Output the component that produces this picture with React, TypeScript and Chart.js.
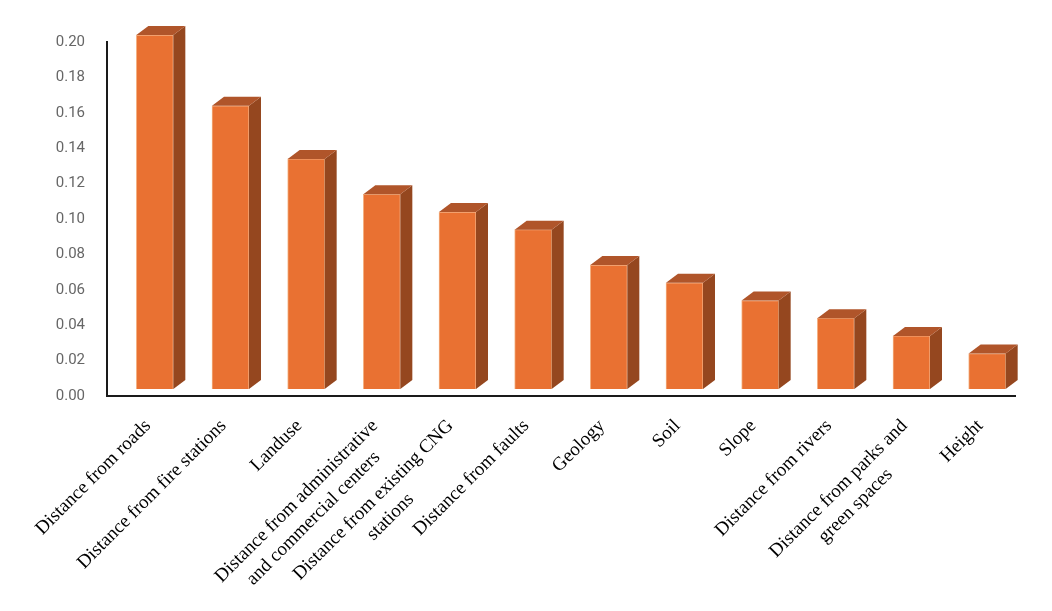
import React, { useEffect, useRef } from 'react';
import { Chart, registerables } from 'chart.js';

Chart.register(...registerables);

const labelLines: string[][] = [
  ['Distance from roads'],
  ['Distance from fire stations'],
  ['Landuse'],
  ['Distance from administrative', 'and commercial centers'],
  ['Distance from existing CNG', 'stations'],
  ['Distance from faults'],
  ['Geology'],
  ['Soil'],
  ['Slope'],
  ['Distance from rivers'],
  ['Distance from parks and', 'green spaces'],
  ['Height'],
];
const weights = [0.2, 0.16, 0.13, 0.11, 0.1, 0.09, 0.07, 0.06, 0.05, 0.04, 0.03, 0.02];

const FRONT = '#E97132';
const SIDE = '#95471F';
const TOP = '#B0552A';
const SHIFT_X = 10;
const SHIFT_Y = -7;
const DEPTH_X = 12;
const DEPTH_Y = 9;

// fake 3D: shift the front faces and add a side + top face to each bar
const bar3d = {
  id: 'bar3d',
  beforeDatasetsDraw(chart: any) {
    chart.ctx.save();
    chart.ctx.translate(SHIFT_X, SHIFT_Y);
  },
  afterDatasetsDraw(chart: any) {
    const ctx = chart.ctx;
    chart.getDatasetMeta(0).data.forEach((bar: any) => {
      const { x, y, base, width } = bar.getProps(['x', 'y', 'base', 'width'], true);
      const l = x - width / 2;
      const r = x + width / 2;
      ctx.fillStyle = SIDE;
      ctx.beginPath();
      ctx.moveTo(r, y);
      ctx.lineTo(r + DEPTH_X, y - DEPTH_Y);
      ctx.lineTo(r + DEPTH_X, base - DEPTH_Y);
      ctx.lineTo(r, base);
      ctx.closePath();
      ctx.fill();
      ctx.fillStyle = TOP;
      ctx.beginPath();
      ctx.moveTo(l, y);
      ctx.lineTo(l + DEPTH_X, y - DEPTH_Y);
      ctx.lineTo(r + DEPTH_X, y - DEPTH_Y);
      ctx.lineTo(r, y);
      ctx.closePath();
      ctx.fill();
    });
    ctx.restore();
  },
  afterDraw(chart: any) {
    const ctx = chart.ctx;
    const xs = chart.scales.x;
    const fontSize = 19;
    const lh = 24;
    ctx.save();
    ctx.font = `${fontSize}px "Liberation Serif", serif`;
    ctx.fillStyle = '#000000';
    ctx.textAlign = 'center';
    ctx.textBaseline = 'middle';
    labelLines.forEach((lines, i) => {
      const cx = xs.getPixelForValue(i);
      const maxW = Math.max(...lines.map((s) => ctx.measureText(s).width));
      ctx.save();
      ctx.translate(cx + 3, xs.top + 27);
      ctx.rotate(-Math.PI / 4);
      lines.forEach((s, k) => ctx.fillText(s, -maxW / 2, k * lh));
      ctx.restore();
    });
    ctx.restore();
  },
};

const App: React.FC = () => {
  const canvasRef = useRef<HTMLCanvasElement>(null);
  const chartRef = useRef<Chart>();

  useEffect(() => {
    if (!canvasRef.current) return;
    chartRef.current = new Chart(canvasRef.current, {
      type: 'bar',
      data: {
        labels: labelLines.map((l) => l.join(' ')),
        datasets: [
          {
            data: weights,
            backgroundColor: FRONT,
            borderColor: '#F4B183',
            borderWidth: 1,
            barThickness: 37,
            clip: false as any,
          },
        ],
      },
      options: {
        animation: false,
        responsive: true,
        maintainAspectRatio: false,
        layout: { padding: { top: 42, right: 37, left: 0, bottom: 0 } },
        plugins: { legend: { display: false }, tooltip: { enabled: false } },
        scales: {
          x: {
            grid: { display: false, drawTicks: false },
            border: { display: true, color: '#1a1a1a', width: 2 },
            ticks: { display: false },
            afterFit: (s: any) => {
              s.height = 215;
            },
          },
          y: {
            min: 0,
            max: 0.2,
            grid: { display: false, drawTicks: false },
            border: { display: true, color: '#1a1a1a', width: 2 },
            ticks: {
              stepSize: 0.02,
              padding: 22,
              color: '#666666',
              font: { family: 'Roboto', size: 15 },
              callback: (v: any) => Number(v).toFixed(2),
            },
            afterFit: (s: any) => {
              s.width = 107;
            },
          },
        },
      },
      plugins: [bar3d],
    });
    return () => {
      chartRef.current?.destroy();
    };
  }, []);

  return (
    <div style={{ position: 'absolute', left: 0, top: 0, width: 1052, height: 611, background: '#fff' }}>
      <canvas ref={canvasRef} />
    </div>
  );
};

export default App;
